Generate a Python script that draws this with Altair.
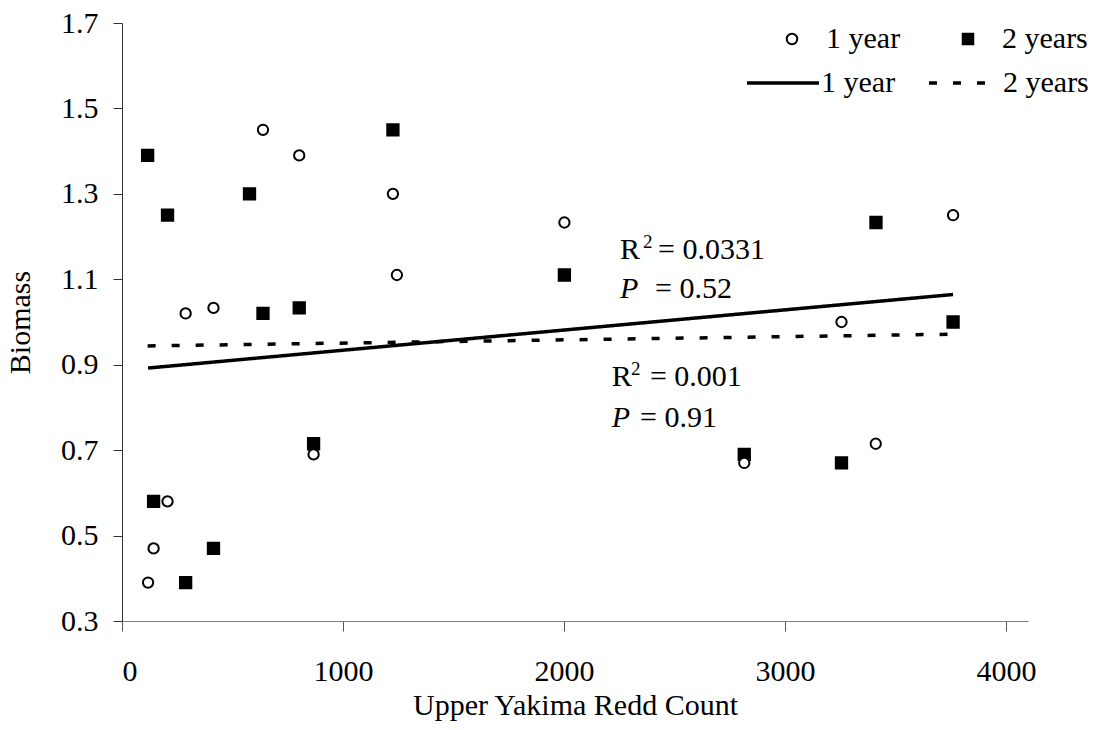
import altair as alt
import pandas as pd

# Upper Yakima redd counts paired with biomass one and two years later
redds_1yr = [118, 143, 206, 288, 414, 638, 802, 867, 1226, 1244, 2002, 2816, 3256, 3411, 3761]
biomass_1yr = [0.39, 0.47, 0.58, 1.02, 1.033, 1.45, 1.39, 0.69, 1.30, 1.11, 1.233, 0.67, 1.00, 0.715, 1.25]
redds_2yr = [116, 143, 206, 288, 414, 577, 638, 802, 867, 1226, 2002, 2816, 3256, 3412, 3761]
biomass_2yr = [1.39, 0.58, 1.25, 0.39, 0.47, 1.30, 1.02, 1.033, 0.715, 1.45, 1.11, 0.69, 0.67, 1.233, 1.00]
series_names = ["1 year", "2 years"]
fit_names = ["1 year fit", "2 years fit"]

x_ticks = [0, 1000, 2000, 3000, 4000]
y_ticks = [0.3, 0.5, 0.7, 0.9, 1.1, 1.3, 1.5, 1.7]

# Fit statistics placed beside the trend lines (data coordinates)
stat_x = [2254, 2358, 2426, 2254, 2412,
          2216, 2303, 2389, 2216, 2344]
stat_y = [1.1475, 1.1733, 1.1475, 1.0562, 1.0562,
          0.8509, 0.8759, 0.8509, 0.7542, 0.7542]
stat_text = ["R", "2", "= 0.0331", "P", "= 0.52",
             "R", "2", "= 0.001", "P", "= 0.91"]
stat_kind = ["plain", "sup", "plain", "italic", "plain",
             "plain", "sup", "plain", "italic", "plain"]

FONT = "Liberation Serif"

# two-year rows first so the open circles sit on top
obs = pd.DataFrame({
    "Redds": redds_2yr + redds_1yr,
    "Biomass": biomass_2yr + biomass_1yr,
    "Series": [series_names[1]] * len(redds_2yr) + [series_names[0]] * len(redds_1yr),
    "Fit": [fit_names[1]] * len(redds_2yr) + [fit_names[0]] * len(redds_1yr),
})

x_enc = alt.X("Redds:Q", scale=alt.Scale(domain=[0, 4100], nice=False),
              axis=alt.Axis(values=x_ticks, format="d", title="Upper Yakima Redd Count",
                            tickSize=10, labelPadding=25, titlePadding=4,
                            domainColor="#808080", tickColor="#555555"))
y_enc = alt.Y("Biomass:Q", scale=alt.Scale(domain=[0.3, 1.7], nice=False, zero=False),
              axis=alt.Axis(values=y_ticks, format=".1f", title="Biomass",
                            tickSize=9, labelPadding=15, titlePadding=25,
                            domainColor="#333333", tickColor="#333333"))

is_two = alt.datum.Series == series_names[1]

point_legend = alt.Legend(
    title=None, orient="none", direction="horizontal",
    legendX=655, legendY=1, columnPadding=52, labelOffset=19,
    symbolSize=110, symbolStrokeColor="black", symbolStrokeWidth=2,
)

points = alt.Chart(obs).mark_point(filled=True, opacity=1, strokeWidth=2).encode(
    x=x_enc,
    y=y_enc,
    shape=alt.Shape("Series:N", scale=alt.Scale(domain=series_names, range=["circle", "square"]),
                    legend=point_legend),
    fill=alt.Fill("Series:N", scale=alt.Scale(domain=series_names, range=["white", "black"]),
                  legend=point_legend),
    stroke=alt.Stroke("Series:N", scale=alt.Scale(domain=series_names, range=["black", "black"]),
                      legend=point_legend),
    size=alt.condition(is_two, alt.value(128), alt.value(106)),
)

trend = alt.Chart(obs).transform_regression(
    "Redds", "Biomass", groupby=["Fit"]
).mark_line(color="black", strokeWidth=3.5).encode(
    x="Redds:Q",
    y="Biomass:Q",
    strokeDash=alt.StrokeDash(
        "Fit:N",
        scale=alt.Scale(domain=fit_names, range=[[1, 0], [8, 16]]),
        legend=alt.Legend(
            title=None, orient="none", direction="horizontal",
            legendX=623, legendY=22, columnPadding=26, labelOffset=0,
            symbolType="stroke", symbolSize=5184,
            symbolStrokeColor="black", symbolStrokeWidth=3.5,
            labelExpr="replace(datum.label, ' fit', '')",
        ),
    ),
)

stats = pd.DataFrame({"Redds": stat_x, "Biomass": stat_y, "label": stat_text, "kind": stat_kind})

def stat_layer(kind, size, style):
    return alt.Chart(stats).transform_filter(alt.datum.kind == kind).mark_text(
        align="left", baseline="alphabetic", fontSize=size, font=FONT,
        fontStyle=style, color="black"
    ).encode(x="Redds:Q", y="Biomass:Q", text="label:N")

text_plain = stat_layer("plain", 30, "normal")
text_italic = stat_layer("italic", 30, "italic")
text_sup = stat_layer("sup", 19, "normal")

chart = alt.layer(trend, points, text_plain, text_italic, text_sup).properties(
    width=906,
    height=598,
    autosize=alt.AutoSizeParams(type="none"),
    padding={"left": 122, "top": 23, "right": 79, "bottom": 109},
    background="white",
).configure_view(stroke=None).configure_axis(
    grid=False,
    labelFont=FONT, labelFontSize=30, labelColor="black",
    titleFont=FONT, titleFontSize=30, titleFontWeight="normal", titleColor="black",
).configure_legend(
    labelFont=FONT, labelFontSize=30, labelColor="black", padding=0,
)

chart.save("out.html", embed_options={"renderer": "svg", "actions": False})
